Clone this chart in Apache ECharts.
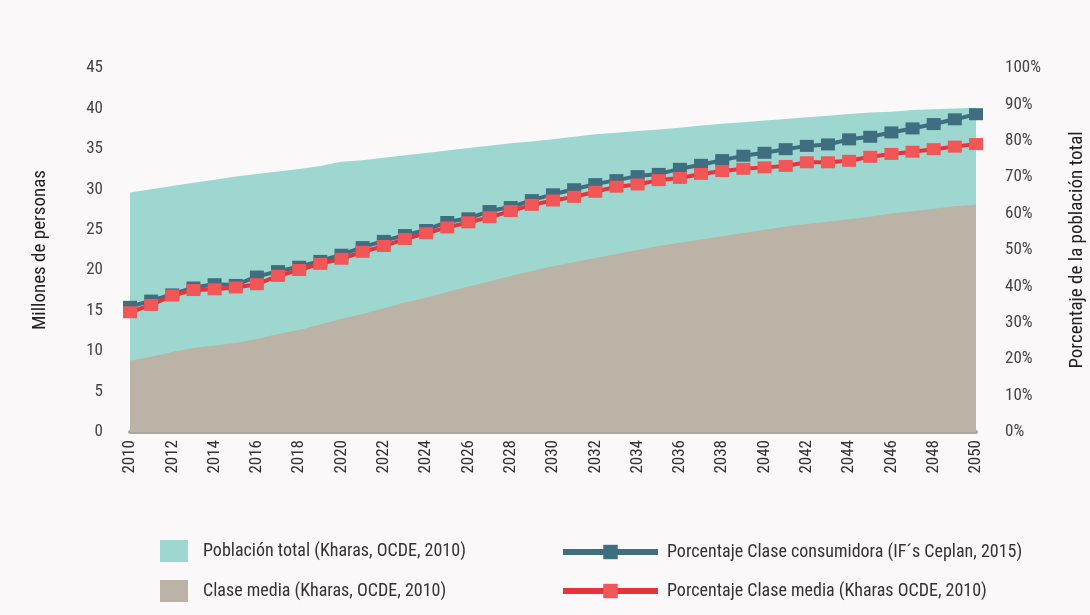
<!DOCTYPE html>
<html>
<head>
<meta charset="utf-8">
<script src="https://cdn.jsdelivr.net/npm/echarts@6/dist/echarts.min.js"></script>
<style>
  html, body { margin: 0; padding: 0; background: #faf8f8; }
  #chart { width: 1090px; height: 615px; }
</style>
</head>
<body>
<div id="chart"></div>
<script>
const years = []
for (let y = 2010; y <= 2050; y++) years.push(String(y))

// millones de personas
const poblacionTotal = [29.6, 30.0, 30.4, 30.8, 31.2, 31.6, 31.9, 32.2, 32.5, 32.9, 33.4, 33.6, 33.9, 34.2, 34.5, 34.8, 35.1, 35.4, 35.7, 35.9, 36.2, 36.5, 36.8, 37.0, 37.2, 37.4, 37.6, 37.9, 38.1, 38.3, 38.5, 38.7, 38.9, 39.1, 39.3, 39.5, 39.6, 39.8, 39.9, 40.0, 40.1]
const claseMedia = [8.8, 9.3, 9.9, 10.4, 10.7, 11.0, 11.5, 12.1, 12.6, 13.3, 14.0, 14.6, 15.3, 16.0, 16.6, 17.3, 18.0, 18.6, 19.3, 19.9, 20.5, 21.0, 21.5, 22.0, 22.5, 23.0, 23.4, 23.8, 24.2, 24.6, 25.0, 25.4, 25.7, 26.0, 26.3, 26.6, 27.0, 27.3, 27.6, 27.9, 28.1]

// porcentaje de la poblacion total
const pctConsumidora = [34.4, 36.1, 37.8, 39.7, 40.6, 40.4, 42.7, 44.2, 45.4, 47.0, 48.7, 50.8, 52.5, 54.1, 55.5, 57.7, 58.7, 60.7, 61.8, 63.7, 65.3, 66.7, 68.1, 69.2, 70.3, 70.9, 72.3, 73.4, 74.7, 75.9, 76.7, 77.7, 78.6, 79.0, 80.4, 81.1, 82.3, 83.4, 84.6, 85.9, 87.3]
const pctClaseMedia = [32.9, 34.9, 37.5, 39.0, 39.2, 39.7, 40.6, 42.9, 44.5, 46.2, 47.6, 49.5, 51.1, 53.0, 54.6, 56.2, 57.6, 59.0, 60.7, 62.4, 63.6, 64.6, 66.0, 67.4, 68.0, 69.2, 69.8, 70.9, 71.7, 72.3, 72.7, 73.1, 74.1, 74.1, 74.5, 75.6, 76.4, 77.0, 77.7, 78.4, 79.1]

const font = '"Liberation Sans Narrow", "Roboto Condensed", "Open Sans", sans-serif'
const txt = { color: '#333', fontSize: 17, fontFamily: font }

const chart = echarts.init(document.getElementById('chart'))

const option = {
  backgroundColor: '#faf8f8',
  animation: false,
  grid: { left: 130, right: 114, top: 68, bottom: 183, outerBoundsMode: 'none' },
  legend: [
    {
      left: 155, top: 535, orient: 'vertical', itemGap: 18,
      itemWidth: 28, itemHeight: 22, icon: 'rect',
      textStyle: { ...txt, fontSize: 18, padding: [0, 0, 0, 10] },
      data: ['Población total (Kharas, OCDE, 2010)', 'Clase media (Kharas, OCDE, 2010)']
    },
    {
      left: 555, top: 538, orient: 'vertical', itemGap: 21,
      itemWidth: 95, itemHeight: 18,
      lineStyle: { width: 6 },
      textStyle: { ...txt, fontSize: 18, padding: [0, 0, 0, 4] },
      data: ['Porcentaje Clase consumidora (IF´s Ceplan, 2015)', 'Porcentaje Clase media (Kharas OCDE, 2010)']
    }
  ],
  xAxis: {
    type: 'category',
    data: years,
    boundaryGap: false,
    axisLine: { lineStyle: { color: '#aaa8a2', width: 4 } },
    axisTick: { show: false },
    axisLabel: { rotate: 90, interval: 1, margin: 8, ...txt }
  },
  yAxis: [
    {
      type: 'value', min: 0, max: 45, interval: 5,
      name: 'Millones de personas', nameLocation: 'middle', nameGap: 80,
      nameTextStyle: { ...txt, fontSize: 19, color: '#222' },
      axisLine: { show: false }, axisTick: { show: false }, splitLine: { show: false },
      axisLabel: { margin: 27, ...txt, color: '#444' }
    },
    {
      type: 'value', min: 0, max: 100, interval: 10,
      name: 'Porcentaje de la población total', nameLocation: 'middle', nameGap: 92,
      nameTextStyle: { ...txt, fontSize: 19, color: '#222' },
      axisLine: { show: false }, axisTick: { show: false }, splitLine: { show: false },
      axisLabel: { margin: 29, formatter: '{value}%', ...txt, color: '#444' }
    }
  ],
  series: [
    {
      name: 'Población total (Kharas, OCDE, 2010)',
      type: 'line', data: poblacionTotal, showSymbol: false,
      itemStyle: { color: '#9dd7d0' },
      lineStyle: { width: 0 },
      areaStyle: { color: '#9dd7d0', opacity: 1 }
    },
    {
      name: 'Clase media (Kharas, OCDE, 2010)',
      type: 'line', data: claseMedia, showSymbol: false,
      itemStyle: { color: '#bab3a6' },
      lineStyle: { width: 0 },
      areaStyle: { color: '#bab3a6', opacity: 1 }
    },
    {
      name: 'Porcentaje Clase consumidora (IF´s Ceplan, 2015)',
      type: 'line', yAxisIndex: 1, data: pctConsumidora,
      symbol: 'rect', symbolSize: [14, 12],
      itemStyle: { color: '#3e6e80' },
      lineStyle: { width: 4, color: '#3e6e80' }
    },
    {
      name: 'Porcentaje Clase media (Kharas OCDE, 2010)',
      type: 'line', yAxisIndex: 1, data: pctClaseMedia,
      symbol: 'rect', symbolSize: [14, 12],
      itemStyle: { color: '#f25656' },
      lineStyle: { width: 4, color: '#e8333c' }
    }
  ]
}
chart.setOption(option)
</script>
</body>
</html>
